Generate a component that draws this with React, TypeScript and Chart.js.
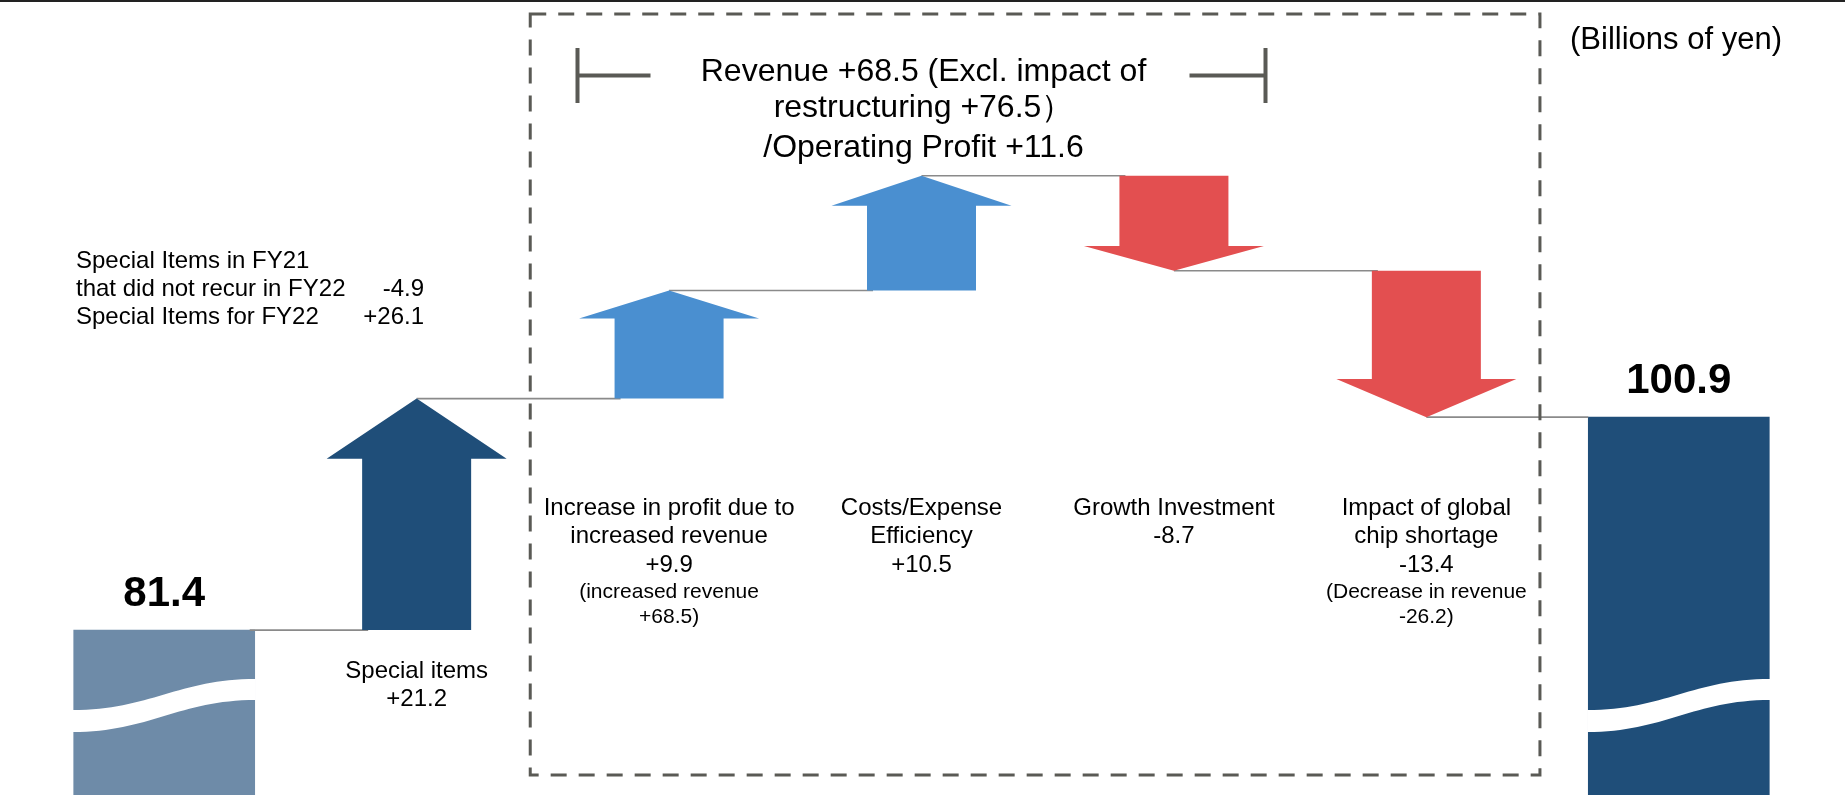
import React, { useEffect, useRef } from 'react';
import { Chart, registerables } from 'chart.js';

Chart.register(...registerables);

// ---------------- data ----------------
const categories = [
  'FY21',
  'Special items',
  'Increase in profit due to increased revenue',
  'Costs/Expense Efficiency',
  'Growth Investment',
  'Impact of global chip shortage',
  'FY22',
];
const totals: (number | null)[] = [81.4, null, null, null, null, null, 100.9];
const deltas: (number | null)[] = [null, 21.2, 9.9, 10.5, -8.7, -13.4, null];
const labelLines: string[][] = [
  [],
  ['Special items', '+21.2'],
  ['Increase in profit due to', 'increased revenue', '+9.9'],
  ['Costs/Expense', 'Efficiency', '+10.5'],
  ['Growth Investment', '-8.7'],
  ['Impact of global', 'chip shortage', '-13.4'],
  [],
];
const subLines: string[][] = [
  [],
  [],
  ['(increased revenue', '+68.5)'],
  [],
  [],
  ['(Decrease in revenue', '-26.2)'],
  [],
];
const titleLines = ['Revenue +68.5 (Excl. impact of', 'restructuring +76.5）', '/Operating Profit +11.6'];
const unitLabel = '(Billions of yen)';
const noteNames = ['Special Items in FY21', 'that did not recur in FY22', 'Special Items for FY22'];
const noteValues = ['', '-4.9', '+26.1'];

// ---------------- styles ----------------
const totalColors = ['#6E8BA8', null, null, null, null, null, '#1F4E79'];
const arrowColors = [null, '#1F4E79', '#4A8FD0', '#4A8FD0', '#E34F50', '#E34F50', null];
const FONT = 'Arial, "Liberation Sans", Helvetica, sans-serif';

// floating segments built from deltas
function buildSegments(): ([number, number] | null)[] {
  let running = totals[0] as number;
  return deltas.map((d) => {
    if (d === null) return null;
    const seg: [number, number] = [running, +(running + d).toFixed(1)];
    running = seg[1];
    return seg;
  });
}

const segments = buildSegments();

const overlayPlugin = {
  id: 'waterfallOverlay',
  afterDatasetsDraw(chart: any) {
    const ctx: CanvasRenderingContext2D = chart.ctx;
    const xs = chart.scales.x;
    const ys = chart.scales.y;
    const W = chart.width;
    const px = (i: number) => xs.getPixelForValue(i);
    const py = (v: number) => ys.getPixelForValue(v);
    const shaftHalf = 54.5;
    const headHalf = 90;
    const barHalf = 90.5;

    ctx.save();

    // top rule
    ctx.fillStyle = '#222222';
    ctx.fillRect(0, 0, W, 2);

    // wave breaks on totals
    totals.forEach((v, i) => {
      if (v === null) return;
      const xl = px(i) - barHalf;
      const xr = px(i) + barHalf;
      const w = xr - xl;
      ctx.beginPath();
      ctx.moveTo(xl - 1, 710);
      ctx.bezierCurveTo(xl + 0.42 * w, 710, xl + 0.58 * w, 679, xr + 1, 679);
      ctx.lineTo(xr + 1, 700);
      ctx.bezierCurveTo(xl + 0.58 * w, 700, xl + 0.42 * w, 732, xl - 1, 732);
      ctx.closePath();
      ctx.fillStyle = '#ffffff';
      ctx.fill();
    });

    // connectors
    ctx.strokeStyle = '#8a8a8a';
    ctx.lineWidth = 1.6;
    const drawH = (x1: number, x2: number, y: number) => {
      ctx.beginPath();
      ctx.moveTo(x1, y);
      ctx.lineTo(x2, y);
      ctx.stroke();
    };
    for (let i = 0; i < categories.length - 1; i++) {
      let level: number | null = null;
      let startX = 0;
      if (totals[i] !== null) {
        level = totals[i] as number;
        startX = px(i) + barHalf - 5;
      } else if (segments[i]) {
        level = (segments[i] as [number, number])[1];
        startX = px(i);
      }
      if (level === null) continue;
      const endX = totals[i + 1] !== null ? px(i + 1) - barHalf : px(i + 1) - shaftHalf + 6;
      drawH(startX, endX, py(level));
    }

    // arrows
    segments.forEach((seg, i) => {
      if (!seg) return;
      const x = px(i);
      const y0 = py(seg[0]);
      const y1 = py(seg[1]);
      const len = Math.abs(y1 - y0);
      const dir = Math.sign(y1 - y0);
      const headH = 0.26 * len;
      const yb = y1 - dir * headH;
      ctx.beginPath();
      ctx.moveTo(x - shaftHalf, y0);
      ctx.lineTo(x - shaftHalf, yb);
      ctx.lineTo(x - headHalf, yb);
      ctx.lineTo(x, y1);
      ctx.lineTo(x + headHalf, yb);
      ctx.lineTo(x + shaftHalf, yb);
      ctx.lineTo(x + shaftHalf, y0);
      ctx.closePath();
      ctx.fillStyle = arrowColors[i] as string;
      ctx.fill();
    });

    // total value labels
    ctx.fillStyle = '#000000';
    ctx.textAlign = 'center';
    ctx.textBaseline = 'middle';
    ctx.font = `bold 42px ${FONT}`;
    totals.forEach((v, i) => {
      if (v === null) return;
      ctx.fillText(v.toFixed(1), px(i), py(v) - 36);
    });

    // category labels
    labelLines.forEach((lines, i) => {
      if (!lines.length) return;
      const x = px(i);
      let y = i === 1 ? 671 : 508;
      ctx.font = `24px ${FONT}`;
      lines.forEach((t) => {
        ctx.fillText(t, x, y);
        y += 28.5;
      });
      ctx.font = `21px ${FONT}`;
      y -= 1;
      subLines[i].forEach((t) => {
        ctx.fillText(t, x, y);
        y += 25;
      });
    });

    // dashed box around operating items
    const s = px(2) - px(1);
    const boxL = px(1) + 0.45 * s;
    const boxR = px(5) + 0.45 * s;
    ctx.strokeStyle = '#5a5a55';
    ctx.lineWidth = 3;
    ctx.setLineDash([16, 12]);
    ctx.strokeRect(boxL, 14, boxR - boxL, 761);
    ctx.setLineDash([]);

    // bracket + title
    const cx = px(3);
    ctx.lineWidth = 4;
    ctx.beginPath();
    ctx.moveTo(cx - 344, 48);
    ctx.lineTo(cx - 344, 103);
    ctx.moveTo(cx - 344, 75.5);
    ctx.lineTo(cx - 271, 75.5);
    ctx.moveTo(cx + 344, 48);
    ctx.lineTo(cx + 344, 103);
    ctx.moveTo(cx + 344, 75.5);
    ctx.lineTo(cx + 268, 75.5);
    ctx.stroke();

    ctx.fillStyle = '#000000';
    ctx.font = `32px ${FONT}`;
    const titleY = [72, 108, 148];
    titleLines.forEach((t, k) => ctx.fillText(t, cx + 2, titleY[k]));

    // unit label
    ctx.font = `31px ${FONT}`;
    ctx.fillText(unitLabel, 1676, 40);

    // special items note
    ctx.font = `24px ${FONT}`;
    const noteY = [261, 289, 317];
    noteNames.forEach((t, k) => {
      ctx.textAlign = 'left';
      ctx.fillText(t, 76, noteY[k]);
      ctx.textAlign = 'right';
      ctx.fillText(noteValues[k], 424, noteY[k]);
    });

    ctx.restore();
  },
};

export default function App() {
  const ref = useRef<HTMLCanvasElement>(null);
  useEffect(() => {
    const canvas = ref.current;
    if (!canvas) return;
    const chart = new Chart(canvas, {
      type: 'bar',
      data: {
        labels: categories,
        datasets: [
          {
            label: 'Operating profit',
            data: totals as any,
            backgroundColor: totalColors.map((c) => c || 'transparent'),
            barThickness: 181,
            grouped: false,
            borderWidth: 0,
          } as any,
          {
            label: 'Change',
            data: segments as any,
            backgroundColor: 'transparent',
            barThickness: 110,
            grouped: false,
            borderWidth: 0,
          } as any,
        ],
      },
      options: {
        responsive: false,
        animation: false,
        devicePixelRatio: 1,
        layout: { padding: { left: 38, right: 40, top: 0, bottom: 0 } },
        plugins: {
          legend: { display: false },
          tooltip: { enabled: false },
        },
        scales: {
          x: { type: 'category', display: false, offset: true, grid: { display: false } },
          y: { type: 'linear', display: false, min: 66.3, max: 139.1, grid: { display: false } },
        },
      },
      plugins: [overlayPlugin],
    });
    return () => chart.destroy();
  }, []);
  return (
    <div style={{ position: 'absolute', left: 0, top: 0, width: 1845, height: 795, background: '#ffffff' }}>
      <canvas ref={ref} width={1845} height={795} style={{ display: 'block', width: 1845, height: 795 }} />
    </div>
  );
}
